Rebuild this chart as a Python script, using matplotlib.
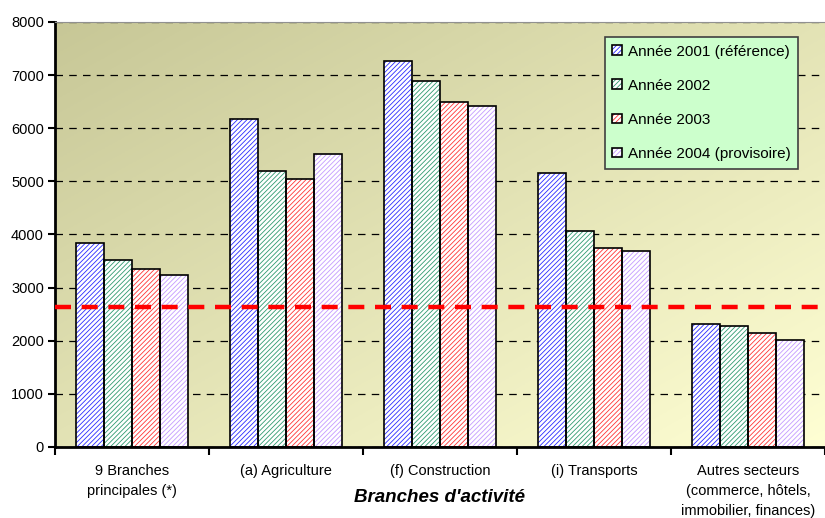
import numpy as np
import matplotlib
matplotlib.use("Agg")
import matplotlib.pyplot as plt
from matplotlib.patches import Patch
from matplotlib.legend_handler import HandlerTuple

# data
categories = ["9 Branches\nprincipales (*)", "(a) Agriculture", "(f) Construction",
              "(i) Transports", "Autres secteurs\n(commerce, hôtels,\nimmobilier, finances)"]
years = ["Année 2001 (référence)", "Année 2002", "Année 2003", "Année 2004 (provisoire)"]
v2001 = [3840, 6170, 7260, 5160, 2315]
v2002 = [3520, 5200, 6890, 4060, 2285]
v2003 = [3350, 5050, 6500, 3745, 2150]
v2004 = [3240, 5510, 6420, 3690, 2015]
ref_level = 2630

colors = ["#2a2aff", "#2f9a70", "#ff3535", "#c49aff"]

plt.rcParams["font.family"] = ["Liberation Sans", "DejaVu Sans"]
plt.rcParams["hatch.linewidth"] = 0.6

fig = plt.figure(figsize=(8.25, 5.18), dpi=100)
ax = fig.add_axes([55 / 825, 71 / 518, 770 / 825, 425 / 518])

# gradient background, dark olive top-left to pale yellow bottom-right
gx, gy = np.meshgrid(np.linspace(0, 1, 200), np.linspace(0, 1, 200))
g = (gx + gy) / 2
c0 = np.array([0.78, 0.78, 0.59])
c1 = np.array([1.0, 1.0, 0.83])
img = c0 + (c1 - c0) * g[..., None]
ax.imshow(img, extent=[0, 1, 0, 1], transform=ax.transAxes, aspect="auto", zorder=0, origin="upper")

x = np.arange(len(categories))
w = 0.182
series = [v2001, v2002, v2003, v2004]
handles = []
for i, vals in enumerate(series):
    pos = x + (i - 1.5) * w
    ax.bar(pos, vals, w, color="white", edgecolor=colors[i], hatch="///////", lw=0, zorder=2)
    ax.bar(pos, vals, w, fill=False, edgecolor="black", lw=1.2, zorder=3)
    h1 = Patch(facecolor="white", edgecolor=colors[i], hatch="///////", lw=0)
    h2 = Patch(fill=False, edgecolor="black", lw=1.2)
    handles.append((h1, h2))

ax.plot([-0.5, 4.5], [ref_level, ref_level], color="#ff0000", lw=3.2, dashes=(3.6, 2.4), zorder=4)

ax.set_xlim(-0.5, 4.5)
ax.set_ylim(0, 8000)
ax.set_yticks(range(0, 8001, 1000))
ax.yaxis.grid(True, color="black", ls=(0, (6, 5)), lw=0.9, zorder=1)
ax.set_axisbelow(True)

ax.set_xticks(np.arange(-0.5, 4.6, 1))
ax.set_xticklabels([])
ax.set_xticks(x, minor=True)
ax.set_xticklabels(categories, minor=True, fontsize=10.5, linespacing=1.55)
ax.tick_params(axis="x", which="minor", length=0, pad=12)
ax.tick_params(axis="x", which="major", length=6, width=1.5, direction="out")
ax.tick_params(axis="y", length=5, width=1.5, direction="out", labelsize=10.5, pad=3)

for s in ["left", "bottom"]:
    ax.spines[s].set_linewidth(2)
ax.spines["top"].set_color("#909090")
ax.spines["right"].set_visible(False)

fig.text(440 / 825, 1 - 497 / 518, "Branches d'activité", fontsize=13.5, fontweight="bold",
         fontstyle="italic", ha="center", va="center")

leg = ax.legend(handles, years, handler_map={tuple: HandlerTuple(ndivide=1)},
                loc="upper left", bbox_to_anchor=(0.714, 0.965), fontsize=11,
                handlelength=0.6, handleheight=0.6, handletextpad=0.4,
                labelspacing=1.32, borderpad=0.5, borderaxespad=0,
                fancybox=False, framealpha=1)
leg.get_frame().set_facecolor("#ccffcc")
leg.get_frame().set_edgecolor("#404040")
leg.get_frame().set_linewidth(1.2)
leg.set_zorder(5)

fig.savefig("out.png", dpi=100)
